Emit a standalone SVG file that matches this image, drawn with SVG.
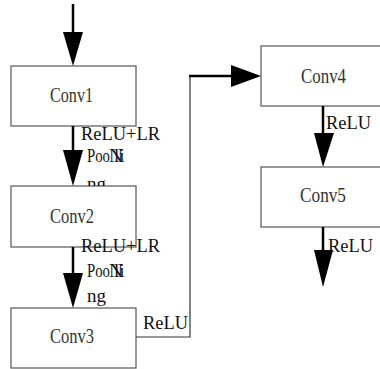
<svg xmlns="http://www.w3.org/2000/svg" width="380" height="369" viewBox="0 0 380 369">
  <style>
    .box { fill: #ffffff; stroke: #555555; stroke-width: 1.2; }
    .name { font-family: "Liberation Serif", "DejaVu Serif", serif; font-size: 21.5px; fill: #333333; }
    .lbl { font-family: "Liberation Serif", "DejaVu Serif", serif; font-size: 19px; fill: #111111; }
    .wire { fill: none; stroke: #000000; stroke-width: 2.5; }
    .thin { fill: none; stroke: #333333; stroke-width: 1.2; }
    .head { fill: #000000; }
  </style>
  <defs>
    <!-- keeps the wrapped label tail from spilling into the box below -->
    <clipPath id="above-conv2">
      <rect x="0" y="0" width="380" height="186"/>
    </clipPath>
  </defs>

  <rect width="380" height="369" fill="#ffffff"/>

  <!-- blocks -->
  <g id="conv1">
    <rect class="box" x="11" y="66" width="125" height="60"/>
    <text class="name" x="50" y="102" textLength="43" lengthAdjust="spacingAndGlyphs">Conv1</text>
  </g>
  <g id="conv2">
    <rect class="box" x="11" y="186" width="125" height="61"/>
    <text class="name" x="50" y="223" textLength="44" lengthAdjust="spacingAndGlyphs">Conv2</text>
  </g>
  <g id="conv3">
    <rect class="box" x="11" y="308" width="125" height="60"/>
    <text class="name" x="50" y="343" textLength="44" lengthAdjust="spacingAndGlyphs">Conv3</text>
  </g>
  <g id="conv4">
    <rect class="box" x="261" y="46" width="125" height="60"/>
    <text class="name" x="301" y="83" textLength="45" lengthAdjust="spacingAndGlyphs">Conv4</text>
  </g>
  <g id="conv5">
    <rect class="box" x="261" y="167" width="125" height="60"/>
    <text class="name" x="300" y="202" textLength="46" lengthAdjust="spacingAndGlyphs">Conv5</text>
  </g>

  <!-- connectors with their labels -->
  <g id="connectors">
    <!-- input -->
    <line class="wire" x1="73" y1="4" x2="73" y2="34"/>
    <polygon class="head" points="63,32 83,32 73,66"/>

    <!-- conv1 -> conv2 -->
    <line class="wire" x1="73" y1="126" x2="73" y2="152"/>
    <polygon class="head" points="63,150 83,150 73,186"/>
    <g class="lbl" clip-path="url(#above-conv2)">
      <text x="81" y="140" textLength="79" lengthAdjust="spacingAndGlyphs">ReLU+LR</text>
      <text x="87" y="162" textLength="23" lengthAdjust="spacingAndGlyphs">Poo</text>
      <text x="109" y="162" textLength="14" lengthAdjust="spacingAndGlyphs">N</text>
      <text x="114" y="162">li</text>
      <text x="87" y="190">ng</text>
    </g>

    <!-- conv2 -> conv3 -->
    <line class="wire" x1="73" y1="247" x2="73" y2="275"/>
    <polygon class="head" points="63,273 83,273 73,308"/>
    <g class="lbl">
      <text x="81" y="252" textLength="79" lengthAdjust="spacingAndGlyphs">ReLU+LR</text>
      <text x="87" y="277" textLength="23" lengthAdjust="spacingAndGlyphs">Poo</text>
      <text x="109" y="277" textLength="14" lengthAdjust="spacingAndGlyphs">N</text>
      <text x="114" y="277">li</text>
      <text x="87" y="302">ng</text>
    </g>

    <!-- conv3 -> conv4 -->
    <polyline class="thin" points="136,337 190,337 190,76"/>
    <line class="wire" x1="189" y1="76" x2="233" y2="76"/>
    <polygon class="head" points="231,65 231,87 261,76"/>
    <text class="lbl" x="143" y="329" textLength="45" lengthAdjust="spacingAndGlyphs">ReLU</text>

    <!-- conv4 -> conv5 -->
    <line class="wire" x1="323" y1="106" x2="323" y2="135"/>
    <polygon class="head" points="314,133 334,133 323,167"/>
    <text class="lbl" x="326" y="129" textLength="45" lengthAdjust="spacingAndGlyphs">ReLU</text>

    <!-- output -->
    <line class="wire" x1="323" y1="227" x2="323" y2="252"/>
    <polygon class="head" points="314,250 333,250 323,287"/>
    <text class="lbl" x="328" y="252" textLength="45" lengthAdjust="spacingAndGlyphs">ReLU</text>
  </g>
</svg>
